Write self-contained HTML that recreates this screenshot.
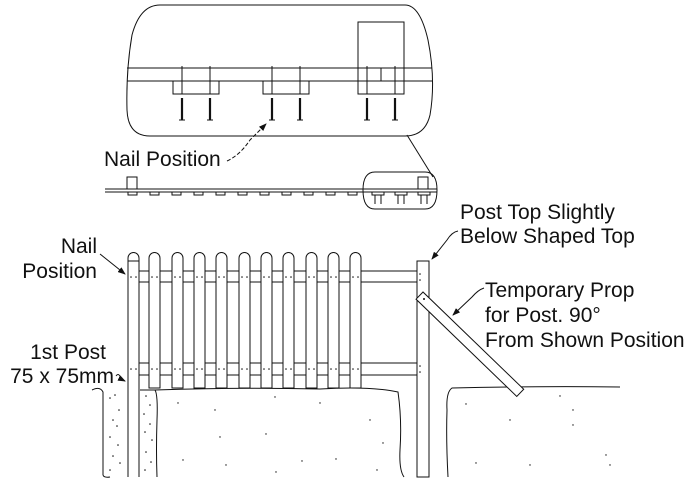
<!DOCTYPE html>
<html><head><meta charset="utf-8"><style>
html,body{margin:0;padding:0;background:#fff;}
svg{display:block;}
text{font-family:"Liberation Sans",Arial,sans-serif;font-size:21px;fill:#111;}
</style></head><body>
<svg width="690" height="484" viewBox="0 0 690 484" xmlns="http://www.w3.org/2000/svg">
<defs>
<marker id="ar" markerWidth="8" markerHeight="6" refX="7" refY="3" orient="auto" markerUnits="userSpaceOnUse"><path d="M0,0 L8,3 L0,6 Z" fill="#111"/></marker>
</defs>
<g fill="none" stroke="#111" stroke-width="1">
<path d="M160,5 L405,5 Q420,5 428,40 Q436,80 430,115 Q425,136 405,136 L150,136 Q128,136 127,110 Q126,70 132,35 Q140,5 160,5 Z"/>
<line x1="127" y1="68" x2="432" y2="68"/>
<line x1="127" y1="81" x2="432" y2="81"/>
<rect x="358" y="22" width="46" height="59" fill="#fff"/>
<line x1="358" y1="68" x2="404" y2="68"/>
<line x1="381" y1="68" x2="381" y2="81"/>
<rect x="173" y="81" width="46" height="13"/>
<rect x="263" y="81" width="46" height="13"/>
<rect x="358" y="81" width="46" height="13"/>
<line x1="182" y1="66" x2="182" y2="94"/><line x1="210" y1="66" x2="210" y2="94"/>
<line x1="272" y1="66" x2="272" y2="94"/><line x1="300" y1="66" x2="300" y2="94"/>
<line x1="367" y1="66" x2="367" y2="94"/><line x1="395" y1="66" x2="395" y2="94"/>
<g stroke-width="2.2">
<line x1="182" y1="98" x2="182" y2="120"/><line x1="210" y1="98" x2="210" y2="120"/>
<line x1="272" y1="98" x2="272" y2="120"/><line x1="300" y1="98" x2="300" y2="120"/>
<line x1="367" y1="98" x2="367" y2="120"/><line x1="395" y1="98" x2="395" y2="120"/>
</g>
<line x1="179" y1="120" x2="185" y2="120"/><line x1="207" y1="120" x2="213" y2="120"/>
<line x1="269" y1="120" x2="275" y2="120"/><line x1="297" y1="120" x2="303" y2="120"/>
<line x1="364" y1="120" x2="370" y2="120"/><line x1="392" y1="120" x2="398" y2="120"/>
<line x1="407" y1="135" x2="433" y2="177"/>
<path d="M227,161 Q240,155 250,140 L266,124" stroke-dasharray="4,2" marker-end="url(#ar)"/>
<line x1="105" y1="189" x2="437" y2="189"/>
<line x1="105" y1="192" x2="437" y2="192"/>
<rect x="127" y="177" width="10" height="12"/>
<rect x="418" y="177" width="10" height="12"/>
<rect x="128" y="192" width="9" height="3"/><rect x="150" y="192" width="9" height="3"/>
<rect x="172" y="192" width="9" height="3"/><rect x="194" y="192" width="9" height="3"/>
<rect x="216" y="192" width="9" height="3"/><rect x="238" y="192" width="9" height="3"/>
<rect x="260" y="192" width="9" height="3"/><rect x="282" y="192" width="9" height="3"/>
<rect x="304" y="192" width="9" height="3"/><rect x="326" y="192" width="9" height="3"/>
<rect x="348" y="192" width="9" height="3"/>
<rect x="372" y="192" width="12" height="3"/><rect x="395" y="192" width="12" height="3"/><rect x="418" y="192" width="12" height="3"/>
<path d="M375,172 L425,172 Q437,172 437,190 Q437,209 425,209 L375,209 Q363,209 363,190 Q363,172 375,172 Z"/>
<line x1="375" y1="195" x2="375" y2="204"/><line x1="381" y1="195" x2="381" y2="204"/>
<line x1="398" y1="195" x2="398" y2="204"/><line x1="404" y1="195" x2="404" y2="204"/>
<line x1="421" y1="195" x2="421" y2="204"/><line x1="427" y1="195" x2="427" y2="204"/>
<!-- ground -->
<path d="M92,390 Q100,386 103,392 L103,475 Q104,478 110,477"/>
<path d="M155,390 Q158,395 157,420 Q156,450 157,477"/>
<path d="M140,390 L155,390 Q240,387 320,389 Q370,386 398,392 Q402,420 400,450 Q399,470 404,477"/>
<path d="M448,477 Q446,440 447,410 Q446,392 452,388 Q540,386 620,387"/>
</g>
<g fill="#111" stroke="none">
<circle cx="110" cy="398" r="0.8"/><circle cx="115" cy="395" r="0.8"/><circle cx="119" cy="410" r="0.8"/><circle cx="113" cy="420" r="0.8"/><circle cx="117" cy="426" r="0.8"/><circle cx="110" cy="437" r="0.8"/><circle cx="118" cy="445" r="0.8"/><circle cx="113" cy="456" r="0.8"/><circle cx="120" cy="463" r="0.8"/><circle cx="110" cy="470" r="0.8"/>
<circle cx="146" cy="396" r="0.8"/><circle cx="150" cy="405" r="0.8"/><circle cx="144" cy="414" r="0.8"/><circle cx="150" cy="424" r="0.8"/><circle cx="145" cy="432" r="0.8"/><circle cx="152" cy="440" r="0.8"/><circle cx="146" cy="452" r="0.8"/><circle cx="151" cy="462" r="0.8"/><circle cx="145" cy="470" r="0.8"/>
<circle cx="178" cy="403" r="0.7"/><circle cx="215" cy="410" r="0.7"/><circle cx="275" cy="397" r="0.7"/><circle cx="320" cy="403" r="0.7"/><circle cx="370" cy="420" r="0.7"/><circle cx="220" cy="437" r="0.7"/><circle cx="266" cy="434" r="0.7"/><circle cx="383" cy="443" r="0.7"/><circle cx="183" cy="460" r="0.7"/><circle cx="226" cy="465" r="0.7"/><circle cx="302" cy="461" r="0.7"/><circle cx="336" cy="459" r="0.7"/><circle cx="276" cy="472" r="0.7"/><circle cx="377" cy="470" r="0.7"/>
<circle cx="466" cy="404" r="0.7"/><circle cx="560" cy="396" r="0.7"/><circle cx="510" cy="420" r="0.7"/><circle cx="573" cy="410" r="0.7"/><circle cx="573" cy="425" r="0.7"/><circle cx="476" cy="463" r="0.7"/><circle cx="530" cy="465" r="0.7"/><circle cx="606" cy="455" r="0.7"/><circle cx="610" cy="465" r="0.7"/>
</g>
<g fill="#fff" stroke="#111" stroke-width="1">
<rect x="139" y="271" width="284" height="11"/>
<rect x="139" y="363" width="284" height="12"/>
<path d="M128,477 L128,258 A5.5,5.5 0 0 1 139,258 L139,477"/>
<line x1="128" y1="261" x2="139" y2="261"/>
<path d="M149,388 L149,258 A5.5,5.5 0 0 1 160,258 L160,388 Z"/>
<path d="M172,388 L172,258 A5.5,5.5 0 0 1 183,258 L183,388 Z"/>
<path d="M194,388 L194,258 A5.5,5.5 0 0 1 205,258 L205,388 Z"/>
<path d="M216,388 L216,258 A5.5,5.5 0 0 1 227,258 L227,388 Z"/>
<path d="M239,388 L239,258 A5.5,5.5 0 0 1 250,258 L250,388 Z"/>
<path d="M261,388 L261,258 A5.5,5.5 0 0 1 272,258 L272,388 Z"/>
<path d="M283,388 L283,258 A5.5,5.5 0 0 1 294,258 L294,388 Z"/>
<path d="M306,388 L306,258 A5.5,5.5 0 0 1 317,258 L317,388 Z"/>
<path d="M328,388 L328,258 A5.5,5.5 0 0 1 339,258 L339,388 Z"/>
<path d="M350,388 L350,258 A5.5,5.5 0 0 1 361,258 L361,388 Z"/>
<rect x="417" y="261" width="12" height="216"/>
<rect x="423" y="292" width="140" height="10" transform="rotate(44 423 292)"/>
</g>
<g fill="#111">
<circle cx="131" cy="277" r="0.8"/><circle cx="136" cy="277" r="0.8"/><circle cx="152" cy="277" r="0.8"/><circle cx="157" cy="277" r="0.8"/><circle cx="175" cy="277" r="0.8"/><circle cx="180" cy="277" r="0.8"/><circle cx="197" cy="277" r="0.8"/><circle cx="202" cy="277" r="0.8"/><circle cx="219" cy="277" r="0.8"/><circle cx="224" cy="277" r="0.8"/><circle cx="242" cy="277" r="0.8"/><circle cx="247" cy="277" r="0.8"/><circle cx="264" cy="277" r="0.8"/><circle cx="269" cy="277" r="0.8"/><circle cx="286" cy="277" r="0.8"/><circle cx="291" cy="277" r="0.8"/><circle cx="309" cy="277" r="0.8"/><circle cx="314" cy="277" r="0.8"/><circle cx="331" cy="277" r="0.8"/><circle cx="336" cy="277" r="0.8"/><circle cx="353" cy="277" r="0.8"/><circle cx="358" cy="277" r="0.8"/>
<circle cx="131" cy="369" r="0.8"/><circle cx="136" cy="369" r="0.8"/><circle cx="152" cy="369" r="0.8"/><circle cx="157" cy="369" r="0.8"/><circle cx="175" cy="369" r="0.8"/><circle cx="180" cy="369" r="0.8"/><circle cx="197" cy="369" r="0.8"/><circle cx="202" cy="369" r="0.8"/><circle cx="219" cy="369" r="0.8"/><circle cx="224" cy="369" r="0.8"/><circle cx="242" cy="369" r="0.8"/><circle cx="247" cy="369" r="0.8"/><circle cx="264" cy="369" r="0.8"/><circle cx="269" cy="369" r="0.8"/><circle cx="286" cy="369" r="0.8"/><circle cx="291" cy="369" r="0.8"/><circle cx="309" cy="369" r="0.8"/><circle cx="314" cy="369" r="0.8"/><circle cx="331" cy="369" r="0.8"/><circle cx="336" cy="369" r="0.8"/><circle cx="353" cy="369" r="0.8"/><circle cx="358" cy="369" r="0.8"/>
<circle cx="420" cy="274" r="0.8"/><circle cx="420" cy="280" r="0.8"/><circle cx="420" cy="366" r="0.8"/><circle cx="420" cy="372" r="0.8"/>
<circle cx="424" cy="299" r="1"/>
</g>
<g fill="none" stroke="#111" stroke-width="1">
<path d="M100,254 L125,274" marker-end="url(#ar)"/>
<path d="M116,376 Q119,372 121,379 L125,381" marker-end="url(#ar)"/>
<path d="M458,231 Q452,232 447,240 L432,259" marker-end="url(#ar)"/>
<path d="M484,288 Q478,290 472,297 L453,315" marker-end="url(#ar)"/>
</g>
<text x="104" y="166">Nail Position</text>
<text x="97" y="253" text-anchor="end">Nail</text>
<text x="97" y="278" text-anchor="end">Position</text>
<text x="106" y="359" text-anchor="end">1st Post</text>
<text x="114" y="383" text-anchor="end">75 x 75mm</text>
<text x="460" y="219">Post Top Slightly</text>
<text x="460" y="243">Below Shaped Top</text>
<text x="485" y="297">Temporary Prop</text>
<text x="485" y="322">for Post. 90°</text>
<text x="485" y="347">From Shown Position</text>
</svg>
</body></html>
